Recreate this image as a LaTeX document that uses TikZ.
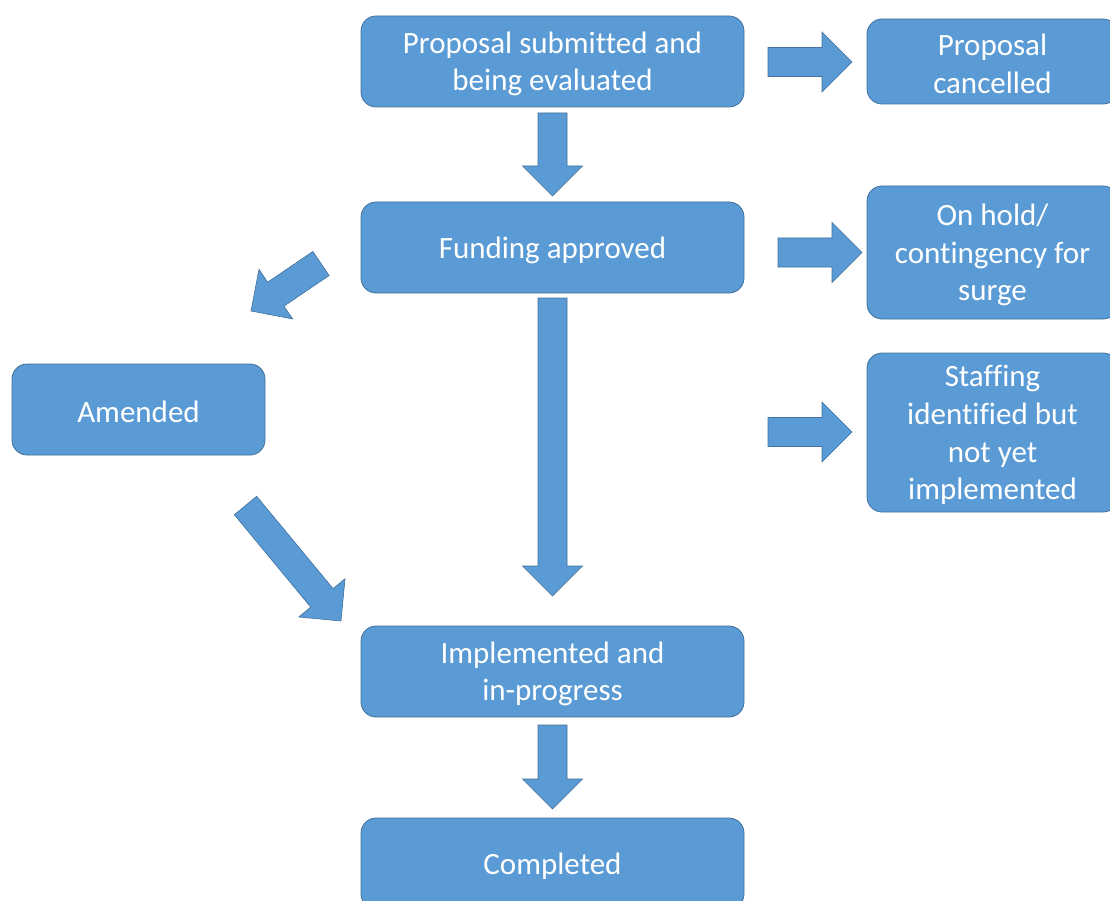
\documentclass[tikz,border=0pt]{standalone}
\usepackage{fontspec}
\setmainfont[Ligatures=NoCommon]{Carlito}
\usetikzlibrary{calc}
\definecolor{boxblue}{HTML}{5B9BD5}
\definecolor{boxedge}{HTML}{41719C}
\tikzset{
  stagetext/.style={text=white, align=center, inner sep=0pt,
    font=\fontsize{31}{37.7}\selectfont},
  stage/.style={draw=boxedge, line width=0.8pt, fill=boxblue, rounded corners=15pt,
    inner sep=0pt, label={[stagetext, yshift=-2.5pt]center:{#1}}},
  barrow/.style={draw=boxedge, line width=0.6pt, fill=boxblue, line join=miter}
}
\newcommand{\blockarrow}[2]{%
  \coordinate (ba-n) at ($(#2)!30pt!(#1)$);
  \path[barrow] ($(#1)!14.5pt!90:(#2)$) -- ($(ba-n)!14.5pt!-90:(#1)$) -- ($(ba-n)!30pt!-90:(#1)$) -- (#2)
    -- ($(ba-n)!30pt!90:(#1)$) -- ($(ba-n)!14.5pt!90:(#1)$) -- ($(#1)!14.5pt!-90:(#2)$) -- cycle;
}
\begin{document}
\begin{tikzpicture}[x=1pt, y=-1pt]
\useasboundingbox (0,0) rectangle (1110,901);
\clip (0,0) rectangle (1110,901);
% stages
\node[stage={Proposal submitted and\\being evaluated}, minimum width=383pt, minimum height=91pt] (prop) at (552.5,61.5) {};
\node[stage={Proposal\\cancelled}, minimum width=251pt, minimum height=85pt] (canc) at (992.5,61.5) {};
\node[stage={Funding approved}, minimum width=383pt, minimum height=91pt] (fund) at (552.5,247.5) {};
\node[stage={On hold/\\contingency for\\surge}, minimum width=251pt, minimum height=133pt] (hold) at (992.5,252.5) {};
\node[stage={Staffing\\identified but\\not yet\\implemented}, minimum width=251pt, minimum height=159pt] (staff) at (992.5,432.5) {};
\node[stage={Amended}, minimum width=253pt, minimum height=91pt] (amend) at (138.5,409.5) {};
\node[stage={Implemented and\\in-progress}, minimum width=383pt, minimum height=91pt] (impl) at (552.5,671.5) {};
\node[stage={Completed}, minimum width=383pt, minimum height=91pt] (comp) at (552.5,863.5) {};
% connector ends
\coordinate (pc-s) at (768,62);    \coordinate (pc-e) at (852,62);
\coordinate (pf-s) at (552.5,113); \coordinate (pf-e) at (552.5,196);
\coordinate (fh-s) at (778,252.5); \coordinate (fh-e) at (862,252.5);
\coordinate (fs-s) at (768,432);   \coordinate (fs-e) at (852,432);
\coordinate (fi-s) at (552.5,298); \coordinate (fi-e) at (552.5,596);
\coordinate (fa-s) at (321,263.5); \coordinate (fa-e) at (251,311);
\coordinate (ai-s) at (245.5,505.5); \coordinate (ai-e) at (341,621);
\coordinate (ic-s) at (552.5,725); \coordinate (ic-e) at (552.5,809);
% block arrows
\blockarrow{pc-s}{pc-e}
\blockarrow{pf-s}{pf-e}
\blockarrow{fh-s}{fh-e}
\blockarrow{fs-s}{fs-e}
\blockarrow{fi-s}{fi-e}
\blockarrow{fa-s}{fa-e}
\blockarrow{ai-s}{ai-e}
\blockarrow{ic-s}{ic-e}
\end{tikzpicture}
\end{document}
